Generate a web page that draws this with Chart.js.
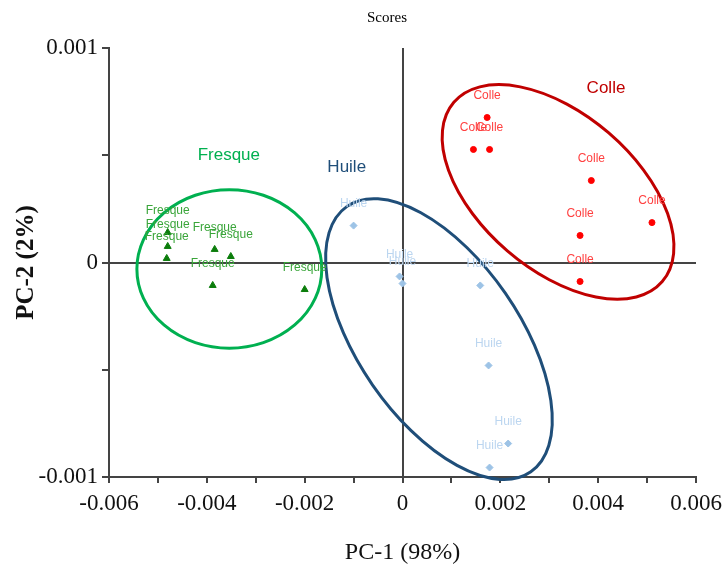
<!DOCTYPE html>
<html>
<head>
<meta charset="utf-8">
<script src="https://cdn.jsdelivr.net/npm/chart.js@4"></script>
<style>
  html, body { margin: 0; padding: 0; background: #fff; }
  #wrap { width: 724px; height: 568px; }
</style>
</head>
<body>
<div id="wrap"><canvas id="scoresChart"></canvas></div>
<script>
// groups
const groups = ['Fresque', 'Huile', 'Colle'];

// PC-1 / PC-2 scores
const fresqueX = [-0.0048, -0.0048, -0.00482, -0.00384, -0.00351, -0.00388, -0.0020];
const fresqueY = [0.00014, 0.000075, 0.000019, 0.000061, 0.000028, -0.000107, -0.000126];

const huileX = [-0.0010, -0.00006, 0.0, 0.00159, 0.00176, 0.00216, 0.00178];
const huileY = [0.000172, -0.000065, -0.000098, -0.000107, -0.00048, -0.000844, -0.000956];

const colleX = [0.00173, 0.00145, 0.00178, 0.00386, 0.0051, 0.00363, 0.00363];
const colleY = [0.000676, 0.000527, 0.000527, 0.000382, 0.000186, 0.000126, -0.0000886];

// group ellipses: centre (data), semi-axes (PC-1 units), tilt in degrees
const ellipseCentres = [[-0.00354, -0.00003], [0.000745, -0.000357], [0.00318, 0.000329]];
const ellipseAxes = [[0.00189, 0.00162], [0.0033, 0.00165], [0.00281, 0.00159]];
const ellipseTilt = [0, 55.3, 40.7];

// group name positions (data)
const groupLabelPos = [[-0.00355, 0.000499], [-0.00114, 0.000443], [0.00416, 0.000811]];

const xTicks = [-0.006, -0.004, -0.002, 0, 0.002, 0.004, 0.006];
const yTicks = [-0.001, 0, 0.001];

const toPoints = (xs, ys) => xs.map((x, i) => ({ x: x, y: ys[i] }));

const ellipseColors = ['#00b050', '#1f4e79', '#c00000'];
const labelColors = ['#3aa53a', '#bcd6f0', '#ff4040'];

const near = (v, list) => list.some((t) => Math.abs(t - v) < 1e-9);
const fmt = (v) => {
    const r = Math.round(v * 1000) / 1000;
    return r === 0 ? '0' : String(r);
};

const overlay = {
    id: 'overlay',
    afterDatasetsDraw(chart) {
        const ctx = chart.ctx;
        const xs = chart.scales.x;
        const ys = chart.scales.y;
        const pxPerUnit = Math.abs(xs.getPixelForValue(0.001) - xs.getPixelForValue(0)) / 0.001;

        ctx.save();
        // ellipses
        ellipseCentres.forEach((c, i) => {
            ctx.beginPath();
            ctx.ellipse(
                xs.getPixelForValue(c[0]),
                ys.getPixelForValue(c[1]),
                ellipseAxes[i][0] * pxPerUnit,
                ellipseAxes[i][1] * pxPerUnit,
                ellipseTilt[i] * Math.PI / 180,
                0,
                Math.PI * 2
            );
            ctx.lineWidth = 3;
            ctx.strokeStyle = ellipseColors[i];
            ctx.stroke();
        });

        // point labels
        ctx.font = '12px "Liberation Sans", Arial, sans-serif';
        ctx.textAlign = 'center';
        ctx.textBaseline = 'middle';
        chart.data.datasets.forEach((ds, i) => {
            ctx.fillStyle = labelColors[i];
            chart.getDatasetMeta(i).data.forEach((pt) => {
                ctx.fillText(ds.label, pt.x, pt.y - 22);
            });
        });

        // group names
        ctx.font = '17px "Liberation Sans", Arial, sans-serif';
        groups.forEach((g, i) => {
            ctx.fillStyle = ellipseColors[i];
            ctx.fillText(g, xs.getPixelForValue(groupLabelPos[i][0]), ys.getPixelForValue(groupLabelPos[i][1]));
        });

        // title
        ctx.fillStyle = '#000';
        ctx.font = '15px "Liberation Serif", "Times New Roman", serif';
        ctx.fillText('Scores', 387, 18);
        ctx.restore();
    }
};

new Chart(document.getElementById('scoresChart'), {
    type: 'scatter',
    data: {
        datasets: [
            {
                label: groups[0],
                data: toPoints(fresqueX, fresqueY),
                pointStyle: 'triangle',
                pointRadius: 4,
                backgroundColor: '#0b7d0b',
                borderColor: '#0b7d0b',
            },
            {
                label: groups[1],
                data: toPoints(huileX, huileY),
                pointStyle: 'rectRot',
                pointRadius: 3.5,
                backgroundColor: '#9dc3e6',
                borderColor: '#9dc3e6',
            },
            {
                label: groups[2],
                data: toPoints(colleX, colleY),
                pointStyle: 'circle',
                pointRadius: 3,
                backgroundColor: '#ff0000',
                borderColor: '#ff0000',
            },
        ],
    },
    options: {
        responsive: true,
        maintainAspectRatio: false,
        animation: false,
        layout: { padding: { top: 48, right: 0, left: 0, bottom: 0 } },
        plugins: {
            legend: { display: false },
            tooltip: { enabled: false },
        },
        scales: {
            x: {
                type: 'linear',
                min: -0.006,
                max: 0.006,
                afterFit: (s) => { s.height = 91; s.paddingRight = 28; },
                border: { color: '#444', width: 2 },
                grid: {
                    color: (c) => (c.tick && Math.abs(c.tick.value) < 1e-9 ? '#444' : 'rgba(0,0,0,0)'),
                    lineWidth: 2,
                    tickColor: '#444',
                    tickLength: 6,
                },
                ticks: {
                    stepSize: 0.001,
                    autoSkip: false,
                    maxRotation: 0,
                    padding: 7,
                    color: '#111',
                    font: { family: '"Liberation Serif", "Times New Roman", serif', size: 23 },
                    callback: (v) => (near(v, xTicks) ? fmt(v) : ''),
                },
                title: {
                    display: true,
                    text: 'PC-1 (98%)',
                    color: '#111',
                    font: { family: '"Liberation Serif", "Times New Roman", serif', size: 24 },
                    padding: { top: 2, bottom: 1 },
                },
            },
            y: {
                type: 'linear',
                min: -0.001,
                max: 0.001,
                afterFit: (s) => { s.width = 109; },
                border: { color: '#444', width: 2 },
                grid: {
                    color: (c) => (c.tick && Math.abs(c.tick.value) < 1e-9 ? '#444' : 'rgba(0,0,0,0)'),
                    lineWidth: 2,
                    tickColor: '#444',
                    tickLength: 7,
                },
                ticks: {
                    stepSize: 0.0005,
                    autoSkip: false,
                    padding: 4,
                    color: '#111',
                    font: { family: '"Liberation Serif", "Times New Roman", serif', size: 23 },
                    callback: (v) => (near(v, yTicks) ? fmt(v) : ''),
                },
                title: {
                    display: true,
                    text: 'PC-2 (2%)',
                    color: '#111',
                    font: { family: '"Liberation Serif", "Times New Roman", serif', size: 25, weight: 'bold' },
                    padding: { top: 12, bottom: 0 },
                },
            },
        },
    },
    plugins: [overlay],
});
</script>
</body>
</html>
